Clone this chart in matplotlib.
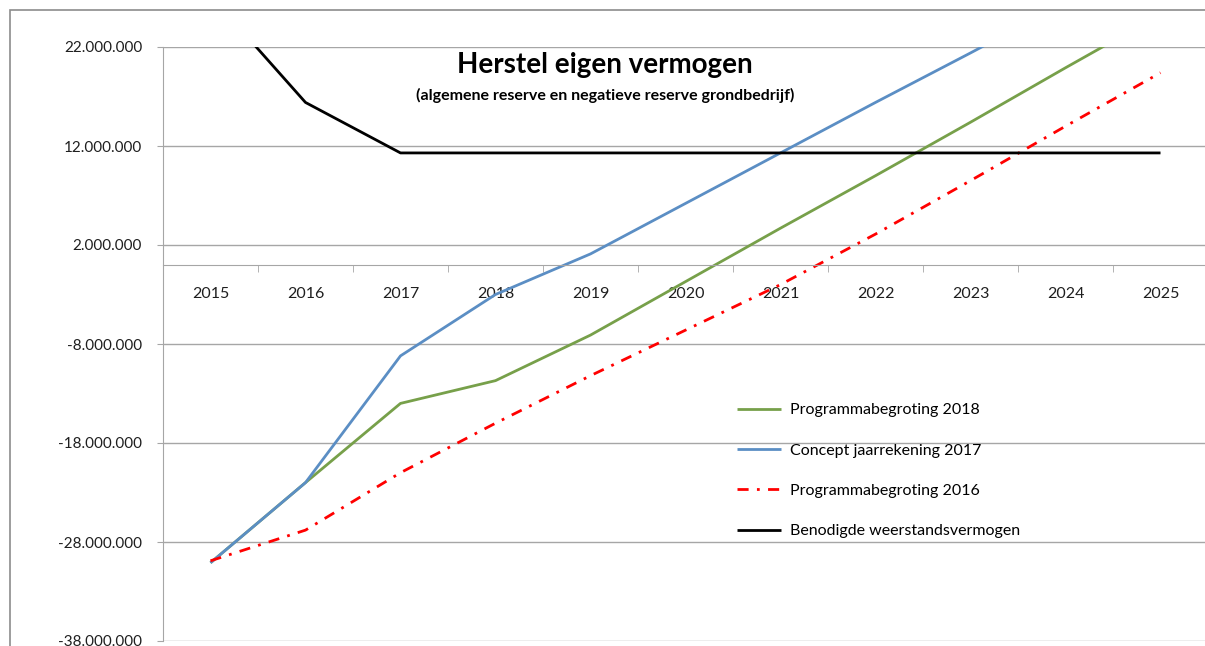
import matplotlib
matplotlib.use("Agg")
import matplotlib.pyplot as plt
from matplotlib.patches import Rectangle
from matplotlib.ticker import FuncFormatter, FixedLocator
import numpy as np

plt.rcParams["font.family"] = ["Lato", "DejaVu Sans"]

years = ["2015", "2016", "2017", "2018", "2019", "2020", "2021", "2022", "2023", "2024", "2025"]
# values in millions of euro
pb2018 = [-30.1, -22.0, -14.0, -11.7, -7.1, -1.7, 3.7, 9.0, 14.4, 19.9, 25.3]
jr2017 = [-30.1, -22.0, -9.2, -3.0, 1.1, 6.2, 11.3, 16.4, 21.4, 26.5, 31.6]
pb2016 = [-29.9, -26.8, -21.0, -16.0, -11.2, -6.6, -2.0, 3.1, 8.5, 14.0, 19.4]
benodigd = [27.2, 16.4, 11.3, 11.3, 11.3, 11.3, 11.3, 11.3, 11.3, 11.3, 11.3]
y_ticks = [-38, -28, -18, -8, 2, 12, 22]

series = [
    ("Programmabegroting 2018", pb2018, "#77a04a", "-"),
    ("Concept jaarrekening 2017", jr2017, "#5b8ec4", "-"),
    ("Programmabegroting 2016", pb2016, "#ff0000", (0, (4, 3, 1, 3))),
    ("Benodigde weerstandsvermogen", benodigd, "#000000", "-"),
]

W, H = 1205, 646
fig = plt.figure(figsize=(W / 100, H / 100), dpi=100)
ax = fig.add_axes([163 / W, 1 - 641 / H, 1045 / W, 594 / H])

x = np.arange(len(years))
for name, vals, col, ls in series:
    ax.plot(x, np.array(vals) * 1e6, color=col, lw=2.0, ls=ls, label=name,
            solid_capstyle="butt")

ax.set_xlim(-0.5, len(years) - 0.5)
ax.set_ylim(y_ticks[0] * 1e6, y_ticks[-1] * 1e6)
ax.yaxis.set_major_locator(FixedLocator([t * 1e6 for t in y_ticks]))
ax.yaxis.set_major_formatter(FuncFormatter(lambda v, p: f"{v:,.0f}".replace(",", ".")))
ax.grid(axis="y", color="#a6a6a6", lw=1)
ax.set_axisbelow(True)

for s in ("top", "right"):
    ax.spines[s].set_visible(False)
ax.spines["left"].set_color("#a6a6a6")
ax.spines["bottom"].set_color("#a6a6a6")
ax.spines["bottom"].set_position(("data", 0))

ax.set_xticks(x)
ax.set_xticklabels(years)
ax.set_xticks(np.arange(0.5, len(years) - 1, 1), minor=True)
ax.tick_params(axis="x", which="major", length=0, pad=16, labelsize=11.5, colors="#1f1f1f")
ax.tick_params(axis="x", which="minor", length=5, direction="out", color="#a6a6a6")
ax.tick_params(axis="y", length=4, direction="out", color="#a6a6a6", pad=11,
               labelsize=11, labelcolor="#1f1f1f")

ax.text(0.423, 0.970, "Herstel eigen vermogen", transform=ax.transAxes,
        ha="center", va="center", fontsize=20, fontweight="bold")
ax.text(0.423, 0.919, "(algemene reserve en negatieve reserve grondbedrijf)",
        transform=ax.transAxes, ha="center", va="center", fontsize=11.5, fontweight="bold")

ax.legend(loc="upper left", bbox_to_anchor=((737 - 163) / 1045, (641 - 403) / 594),
          frameon=False, fontsize=11.5, borderpad=0, borderaxespad=0,
          handlelength=2.75, handletextpad=0.56, labelspacing=1.64)

fig.add_artist(Rectangle((10 / W, -0.1), 1.2, 1.1 - 10 / H, transform=fig.transFigure,
                         fill=False, edgecolor="#8c8c8c", lw=1.2))

fig.savefig("out.png", dpi=100)
